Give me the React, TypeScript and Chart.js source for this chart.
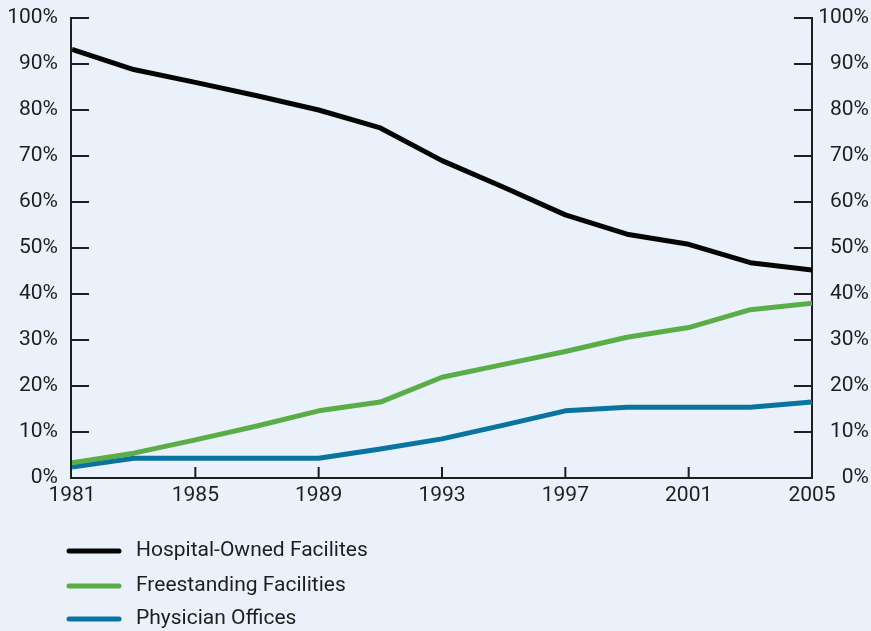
import React, { useEffect, useRef } from "react";
import { Chart, registerables } from "chart.js";

Chart.register(...registerables);

const years = [1981, 1983, 1985, 1987, 1989, 1991, 1993, 1995, 1997, 1999, 2001, 2003, 2005];
const hospitalOwned = [93.2, 88.8, 86.0, 83.1, 80.0, 76.1, 69.0, 63.2, 57.2, 53.0, 50.8, 46.8, 45.2];
const freestanding = [3.3, 5.4, 8.3, 11.3, 14.6, 16.5, 21.9, 24.7, 27.5, 30.6, 32.7, 36.6, 38.0];
const physicianOffices = [2.4, 4.3, 4.3, 4.3, 4.3, 6.3, 8.5, 11.5, 14.6, 15.4, 15.4, 15.4, 16.5];
const xTickYears = [1981, 1985, 1989, 1993, 1997, 2001, 2005];
const yTickValues = [0, 10, 20, 30, 40, 50, 60, 70, 80, 90, 100];
const seriesLabels = ["Hospital-Owned Facilites", "Freestanding Facilities", "Physician Offices"];
const seriesColors = ["#050505", "#5aad47", "#0a73a0"];

const FONT = "Roboto, 'Open Sans', sans-serif";
const BG = "#eaf1fa";
const AXIS = "#1e1e1e";

const axesPlugin = {
  id: "customAxes",
  beforeDatasetsDraw(chart: any) {
    const { ctx, chartArea } = chart;
    const x = chart.scales.x;
    const y = chart.scales.y;
    const left = chartArea.left - 1;
    const right = chartArea.right;
    const top = y.getPixelForValue(100);
    const bottom = y.getPixelForValue(0);
    ctx.save();
    ctx.strokeStyle = AXIS;
    ctx.lineWidth = 2;
    ctx.beginPath();
    ctx.moveTo(left, top - 1);
    ctx.lineTo(left, bottom + 1);
    ctx.moveTo(right, top - 1);
    ctx.lineTo(right, bottom + 1);
    ctx.moveTo(left - 1, bottom);
    ctx.lineTo(right + 1, bottom);
    yTickValues.forEach((v) => {
      if (v === 0) return;
      const py = y.getPixelForValue(v);
      ctx.moveTo(left, py);
      ctx.lineTo(left + 18, py);
      ctx.moveTo(right, py);
      ctx.lineTo(right - 18, py);
    });
    xTickYears.forEach((yr) => {
      if (yr === xTickYears[0] || yr === xTickYears[xTickYears.length - 1]) return;
      const px = x.getPixelForValue(yr);
      ctx.moveTo(px, bottom);
      ctx.lineTo(px, bottom - 11);
    });
    ctx.stroke();
    ctx.restore();
  },
  afterDraw(chart: any) {
    const { ctx } = chart;
    const rows = [551, 586, 619];
    ctx.save();
    chart.data.datasets.forEach((ds: any, i: number) => {
      const ry = rows[i];
      ctx.strokeStyle = ds.borderColor;
      ctx.lineWidth = 5;
      ctx.lineCap = "round";
      ctx.beginPath();
      ctx.moveTo(69, ry);
      ctx.lineTo(119, ry);
      ctx.stroke();
      ctx.fillStyle = "#1e1e1e";
      ctx.font = `21px ${FONT}`;
      ctx.textBaseline = "middle";
      ctx.textAlign = "left";
      ctx.fillText(ds.label, 136, ry);
    });
    ctx.restore();
  },
};

export default function App() {
  const ref = useRef<HTMLCanvasElement | null>(null);
  useEffect(() => {
    if (!ref.current) return;
    const mk = (i: number, vals: number[]) => ({
      label: seriesLabels[i],
      data: years.map((yr, k) => ({ x: yr, y: vals[k] })),
      borderColor: seriesColors[i],
      backgroundColor: seriesColors[i],
      borderWidth: 5,
      pointRadius: 0,
      tension: 0,
      borderJoinStyle: "round" as const,
      yAxisID: "y",
    });
    const tickFont = { family: FONT, size: 21 };
    const fixY = (w: number) => (scale: any) => {
      scale.width = w;
      scale.paddingTop = 0;
      scale.paddingBottom = 0;
    };
    const chart = new Chart(ref.current, {
      type: "line",
      data: {
        datasets: [mk(0, hospitalOwned), mk(1, freestanding), mk(2, physicianOffices)],
      },
      plugins: [axesPlugin],
      options: {
        animation: false,
        responsive: false,
        devicePixelRatio: 1,
        layout: { padding: { top: 18, bottom: 123, left: 0, right: 2 } },
        plugins: { legend: { display: false }, tooltip: { enabled: false } },
        scales: {
          x: {
            type: "linear",
            min: 1981,
            max: 2005,
            grid: { display: false, drawTicks: false },
            border: { display: false },
            afterBuildTicks: (scale: any) => {
              scale.ticks = xTickYears.map((v) => ({ value: v }));
            },
            afterFit: (scale: any) => {
              scale.height = 30;
              scale.paddingLeft = 0;
              scale.paddingRight = 0;
            },
            ticks: {
              color: "#1e1e1e",
              font: tickFont,
              padding: 5,
              maxRotation: 0,
              autoSkip: false,
              callback: (v: any) => String(v),
            },
          },
          y: {
            position: "left",
            min: 0,
            max: 100,
            grid: { display: false, drawTicks: false },
            border: { display: false },
            afterBuildTicks: (scale: any) => {
              scale.ticks = yTickValues.map((v) => ({ value: v }));
            },
            afterFit: fixY(72),
            ticks: {
              color: "#1e1e1e",
              font: tickFont,
              padding: 14,
              callback: (v: any) => `${v}%`,
            },
          },
          y2: {
            position: "right",
            min: 0,
            max: 100,
            grid: { display: false, drawTicks: false },
            border: { display: false },
            afterBuildTicks: (scale: any) => {
              scale.ticks = yTickValues.map((v) => ({ value: v }));
            },
            afterFit: fixY(57),
            ticks: {
              color: "#1e1e1e",
              font: tickFont,
              padding: 6,
              crossAlign: "far",
              callback: (v: any) => `${v}%`,
            },
          },
        },
      } as any,
    });
    return () => chart.destroy();
  }, []);
  return (
    <div style={{ position: "absolute", left: 0, top: 0, width: 871, height: 631, background: BG }}>
      <canvas ref={ref} width={871} height={631} style={{ display: "block", width: 871, height: 631 }} />
    </div>
  );
}
